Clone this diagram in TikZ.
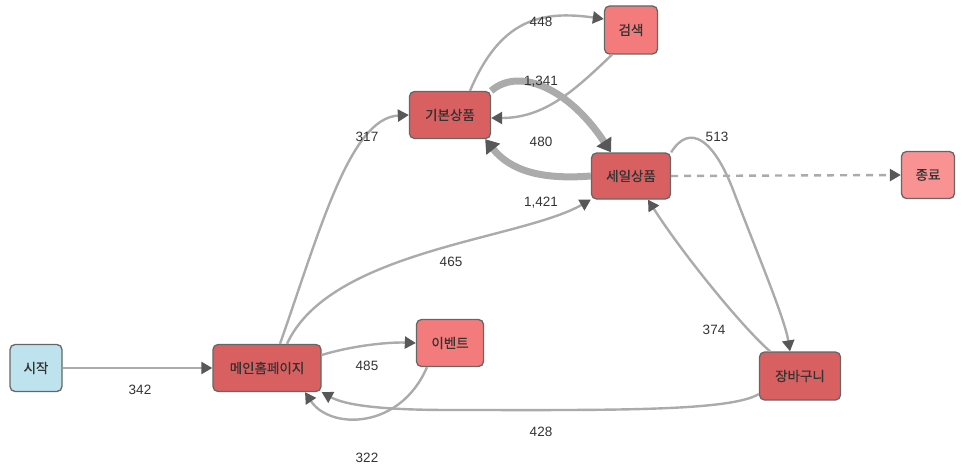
\documentclass[tikz,border=0pt]{standalone}
\usepackage{fontspec}
\setmainfont{Liberation Sans}
\newfontfamily\krfont[FakeBold=0.6]{Noto Sans CJK KR}
\usetikzlibrary{arrows.meta}
\definecolor{boxline}{HTML}{666666}
\definecolor{darkbox}{HTML}{D96060}
\definecolor{midbox}{HTML}{F47B7B}
\definecolor{lightbox}{HTML}{F99292}
\definecolor{startbox}{HTML}{BEE3EE}
\definecolor{edgegray}{HTML}{ABABAB}
\definecolor{tipgray}{HTML}{585858}
\definecolor{labelgray}{HTML}{333333}
\begin{document}
\begin{tikzpicture}[x=1pt,y=-1pt,
  box/.style={draw=boxline, line width=1.3pt, rounded corners=5pt, inner sep=0pt,
    font=\krfont\fontsize{13.5}{15}\selectfont, text=labelgray},
  conn/.style={draw=edgegray, line width=2.4pt,
    -{Triangle[length=11pt,width=12pt,color=tipgray]}},
  thickconn/.style={draw=edgegray, line width=7pt,
    -{Triangle[length=13pt,width=17pt,color=tipgray]}},
  lbl/.style={font=\fontsize{13.5}{15}\selectfont, text=labelgray, inner sep=0pt}
]
\useasboundingbox (0,0) rectangle (966,476);

% nodes
\node[box, fill=startbox, minimum width=52pt, minimum height=47pt] (start) at (36,368) {시작};
\node[box, fill=darkbox, minimum width=108pt, minimum height=47pt] (main) at (267,368) {메인홈페이지};
\node[box, fill=midbox, minimum width=67pt, minimum height=47pt] (event) at (450,343) {이벤트};
\node[box, fill=darkbox, minimum width=81pt, minimum height=47pt] (basic) at (450,115) {기본상품};
\node[box, fill=midbox, minimum width=53pt, minimum height=48pt] (search) at (631,30) {검색};
\node[box, fill=darkbox, minimum width=79pt, minimum height=46pt] (sale) at (631,176) {세일상품};
\node[box, fill=lightbox, minimum width=53pt, minimum height=47pt] (finish) at (928,175) {종료};
\node[box, fill=darkbox, minimum width=81pt, minimum height=48pt] (cart) at (800,376) {장바구니};

% connectors
\draw[conn] (start.east) -- (main.west);
\draw[conn] ([yshift=13pt]main.east) .. controls (355,345) and (390,342) .. (event.west);
\draw[conn] ([xshift=-23pt]event.south) .. controls (400,430) and (330,430) .. ([xshift=38pt]main.south);
\draw[conn] ([yshift=-18pt]cart.west) .. controls (730,412) and (600,410) .. (450,410)
   .. controls (380,410) and (345,405) .. (main.south east);
\draw[conn] ([xshift=13pt]main.north) .. controls (320,230) and (350,118) .. (basic.west);
\draw[conn] ([xshift=20pt]main.north) .. controls (330,250) and (520,240) .. (sale.south west);
\draw[conn] ([xshift=20pt]basic.north) .. controls (500,20) and (540,10) .. ([yshift=11pt]search.west);
\draw[conn] ([xshift=-19pt]search.south) .. controls (575,90) and (545,118) .. ([yshift=-3pt]basic.east);
\draw[thickconn] (basic.north east) .. controls (520,66) and (570,90) .. ([xshift=-20pt]sale.north);
\draw[thickconn] (sale.west) .. controls (540,180) and (510,170) .. ([xshift=-6pt]basic.south east);
\draw[conn, dash pattern=on 7pt off 6pt] (sale.east) -- (finish.west);
\draw[conn] (sale.north east) .. controls (690,122) and (715,140) .. (735,195)
   .. controls (760,260) and (785,320) .. ([xshift=-10pt]cart.north);
\draw[conn] ([xshift=-30pt]cart.north) .. controls (740,325) and (680,250) .. ([xshift=17pt]sale.south);

% labels
\node[lbl] (l342) at (140,390) {342};
\node[lbl] (l485) at (367,366) {485};
\node[lbl] (l322) at (367,458) {322};
\node[lbl] (l428) at (541,432) {428};
\node[lbl] (l317) at (367,137) {317};
\node[lbl] (l465) at (451,262) {465};
\node[lbl] (l1421) at (541,203) {1,421};
\node[lbl] (l448) at (541,22) {448};
\node[lbl] (l1341) at (541,82) {1,341};
\node[lbl] (l480) at (541,142) {480};
\node[lbl] (l513) at (717,137) {513};
\node[lbl] (l374) at (714,330) {374};
\end{tikzpicture}
\end{document}
